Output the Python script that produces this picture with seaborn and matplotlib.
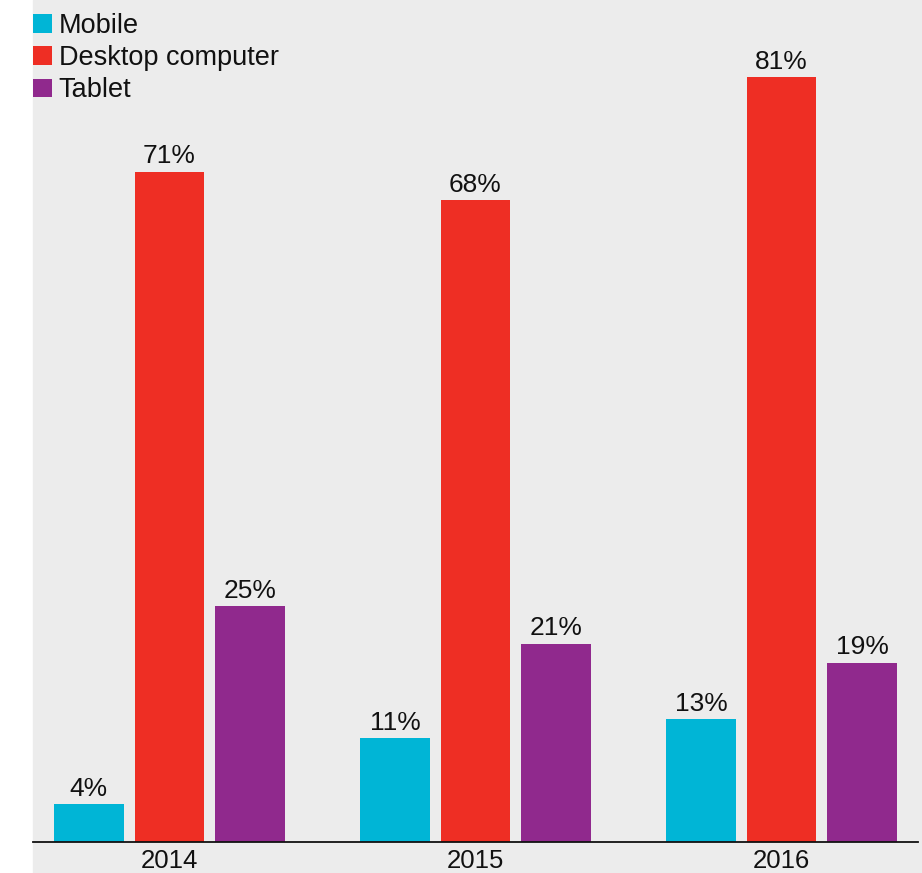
import matplotlib
matplotlib.use("Agg")
import matplotlib.pyplot as plt
from matplotlib.patches import Rectangle
import seaborn as sns
import pandas as pd

years = ["2014", "2015", "2016"]
devices = ["Mobile", "Desktop computer", "Tablet"]
mobile = [4, 11, 13]
desktop = [71, 68, 81]
tablet = [25, 21, 19]
colors = ["#00b5d6", "#ee2e24", "#90298d"]

rows = []
for i, y in enumerate(years):
    for dev, vals in zip(devices, [mobile, desktop, tablet]):
        rows.append({"year": y, "device": dev, "share": vals[i]})
df = pd.DataFrame(rows)

sns.set_theme(style="white")
plt.rcParams["font.family"] = ["Liberation Sans", "DejaVu Sans"]

bg = "#ececec"
fig = plt.figure(figsize=(9.22, 8.73), dpi=100, facecolor="white")
fig.patches.append(Rectangle((33 / 922, 0), 1 - 33 / 922, 1,
                             transform=fig.transFigure, color=bg, zorder=-10))
ax = fig.add_axes([33 / 922, 31 / 873, 885 / 922, 842 / 873])
ax.set_facecolor(bg)

sns.barplot(data=df, x="year", y="share", hue="device", hue_order=devices,
            palette=colors, width=0.79, gap=0.14, ax=ax, saturation=1,
            errorbar=None, linewidth=0)

for cont in ax.containers:
    ax.bar_label(cont, labels=[f"{v:g}%" for v in cont.datavalues],
                 padding=2.5, fontsize=19, color="#111111")

ax.set_xlim(-0.446, 2.446)
ax.set_ylim(0, 89.2)
ax.set_xlabel("")
ax.set_ylabel("")
ax.set_yticks([])
ax.tick_params(axis="x", length=0, labelsize=18.5, colors="#111111", pad=5)
for s in ["top", "right", "left"]:
    ax.spines[s].set_visible(False)
ax.spines["bottom"].set_color("#111111")
ax.spines["bottom"].set_linewidth(1.3)

leg = ax.legend(loc="upper left", bbox_to_anchor=(0, 1 - 13 / 842), frameon=False,
                fontsize=19.5, handlelength=0.7, handleheight=0.7,
                handletextpad=0.25, labelspacing=0.23, borderaxespad=0.0,
                borderpad=0.0)
for t in leg.get_texts():
    t.set_color("#111111")

fig.savefig("out.png", dpi=100, facecolor=fig.get_facecolor())
